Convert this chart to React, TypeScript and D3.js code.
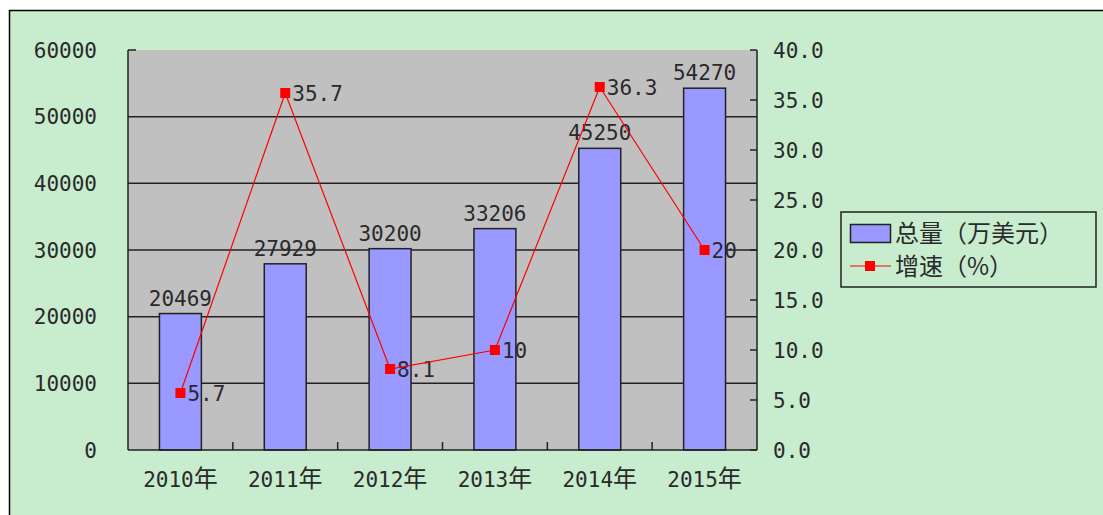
import { useEffect, useRef } from 'react';
import * as d3 from 'd3';

const years = ['2010年', '2011年', '2012年', '2013年', '2014年', '2015年'];
const totals = [20469, 27929, 30200, 33206, 45250, 54270];
const growth = [5.7, 35.7, 8.1, 10, 36.3, 20];
const growthLabels = ['5.7', '35.7', '8.1', '10', '36.3', '20'];
const leftTicks = [0, 10000, 20000, 30000, 40000, 50000, 60000];
const rightTicks = [0, 5, 10, 15, 20, 25, 30, 35, 40];
const legendNames = ['总量（万美元）', '增速（%）'];

const FONT = '"DejaVu Sans Mono", "Noto Sans CJK SC", monospace';
const CJK = '"Noto Sans CJK SC", sans-serif';

const App = () => {
  const svgRef = useRef<SVGSVGElement>(null);

  useEffect(() => {
    const svg = d3.select(svgRef.current);
    svg.selectAll('*').remove();

    const width = 1103;
    const height = 515;
    const marginLeft = 128;
    const marginRight = 346;
    const marginTop = 50;
    const marginBottom = 65;

    // background frame
    svg.append('rect')
      .attr('x', 9.5).attr('y', 10.5)
      .attr('width', 1110).attr('height', 520)
      .attr('fill', '#c8ecce')
      .attr('stroke', '#000').attr('stroke-width', 1.5);

    const x = d3.scaleBand()
      .domain(years)
      .range([marginLeft, width - marginRight]);

    const y = d3.scaleLinear().domain([0, 60000]).range([height - marginBottom, marginTop]);
    const y2 = d3.scaleLinear().domain([0, 40]).range([height - marginBottom, marginTop]);

    const x0 = marginLeft, x1 = width - marginRight;
    const yb = height - marginBottom;

    // plot area
    svg.append('rect')
      .attr('x', x0).attr('y', marginTop)
      .attr('width', x1 - x0).attr('height', yb - marginTop)
      .attr('fill', '#c0c0c0');

    // gridlines
    svg.append('g')
      .selectAll('line')
      .data(leftTicks.slice(1, -1))
      .join('line')
      .attr('x1', x0).attr('x2', x1)
      .attr('y1', d => y(d)).attr('y2', d => y(d))
      .attr('stroke', '#222').attr('stroke-width', 1.5);

    // bars
    const bw = x.bandwidth() * 0.4;
    svg.append('g')
      .selectAll('rect')
      .data(totals)
      .join('rect')
      .attr('x', (d, i) => x(years[i])! + (x.bandwidth() - bw) / 2)
      .attr('y', d => y(d))
      .attr('width', bw)
      .attr('height', d => yb - y(d))
      .attr('fill', '#9999ff')
      .attr('stroke', '#222').attr('stroke-width', 1.5);

    // axes lines
    const axes = svg.append('g').attr('stroke', '#222').attr('stroke-width', 1.5);
    axes.append('line').attr('x1', x0).attr('x2', x0).attr('y1', marginTop).attr('y2', yb);
    axes.append('line').attr('x1', x1).attr('x2', x1).attr('y1', marginTop).attr('y2', yb);
    axes.append('line').attr('x1', x0).attr('x2', x1).attr('y1', yb).attr('y2', yb);
    axes.append('line').attr('x1', x0).attr('x2', x0 + 8).attr('y1', marginTop).attr('y2', marginTop);
    axes.selectAll('line.rt')
      .data(rightTicks)
      .join('line')
      .attr('class', 'rt')
      .attr('x1', x1 - 7).attr('x2', x1)
      .attr('y1', d => y2(d)).attr('y2', d => y2(d));
    axes.selectAll('line.xt')
      .data(years.slice(1))
      .join('line')
      .attr('class', 'xt')
      .attr('x1', d => x(d)!).attr('x2', d => x(d)!)
      .attr('y1', yb).attr('y2', yb - 8);

    const text = svg.append('g')
      .attr('font-family', FONT)
      .attr('font-size', 21)
      .attr('fill', '#2a2a2a');

    // left tick labels
    text.append('g')
      .selectAll('text')
      .data(leftTicks)
      .join('text')
      .attr('x', 97).attr('y', d => y(d))
      .attr('dy', '0.36em')
      .attr('text-anchor', 'end')
      .text(d => String(d));

    // right tick labels
    text.append('g')
      .selectAll('text')
      .data(rightTicks)
      .join('text')
      .attr('x', 773).attr('y', d => y2(d))
      .attr('dy', '0.36em')
      .text(d => d.toFixed(1));

    // category labels, the 年 glyph a bit larger
    const cat = text.append('g')
      .selectAll('text')
      .data(years)
      .join('text')
      .attr('x', d => x(d)! + x.bandwidth() / 2)
      .attr('y', 479)
      .attr('dy', '0.36em')
      .attr('text-anchor', 'middle');
    cat.append('tspan').text(d => d.slice(0, -1));
    cat.append('tspan')
      .attr('font-family', CJK)
      .attr('font-size', 24)
      .text(d => d.slice(-1));

    // bar value labels
    text.append('g')
      .selectAll('text')
      .data(totals)
      .join('text')
      .attr('x', (d, i) => x(years[i])! + x.bandwidth() / 2)
      .attr('y', d => y(d) - 8)
      .attr('text-anchor', 'middle')
      .text(d => String(d));

    // growth line
    const line = d3.line<number>()
      .x((d, i) => x(years[i])! + x.bandwidth() / 2)
      .y(d => y2(d));
    svg.append('path')
      .datum(growth)
      .attr('d', line)
      .attr('fill', 'none')
      .attr('stroke', '#ff0000')
      .attr('stroke-width', 1.2);

    svg.append('g')
      .selectAll('rect')
      .data(growth)
      .join('rect')
      .attr('x', (d, i) => x(years[i])! + x.bandwidth() / 2 - 5)
      .attr('y', d => y2(d) - 5)
      .attr('width', 10).attr('height', 10)
      .attr('fill', '#ff0000');

    text.append('g')
      .selectAll('text')
      .data(growth)
      .join('text')
      .attr('x', (d, i) => x(years[i])! + x.bandwidth() / 2 + 7)
      .attr('y', d => y2(d))
      .attr('dy', '0.36em')
      .text((d, i) => growthLabels[i]);

    // legend
    const lg = svg.append('g');
    lg.append('rect')
      .attr('x', 841).attr('y', 212).attr('width', 255).attr('height', 75)
      .attr('fill', 'none').attr('stroke', '#222').attr('stroke-width', 1.5);
    lg.append('rect')
      .attr('x', 850.5).attr('y', 224.5).attr('width', 40).attr('height', 18)
      .attr('fill', '#9999ff').attr('stroke', '#222').attr('stroke-width', 1.5);
    lg.append('line')
      .attr('x1', 850).attr('x2', 891).attr('y1', 266).attr('y2', 266)
      .attr('stroke', '#ff0000').attr('stroke-width', 1.2);
    lg.append('rect')
      .attr('x', 865).attr('y', 261).attr('width', 10).attr('height', 10)
      .attr('fill', '#ff0000');
    lg.selectAll('text')
      .data(legendNames)
      .join('text')
      .attr('x', 895)
      .attr('y', (d, i) => 233 + i * 33)
      .attr('dy', '0.36em')
      .attr('font-family', CJK)
      .attr('font-size', 24)
      .attr('fill', '#2a2a2a')
      .text(d => d);
  }, []);

  return (
    <svg
      ref={svgRef}
      width={1103}
      height={515}
      style={{ position: 'absolute', left: 0, top: 0, display: 'block', background: '#fff' }}
    />
  );
};

export default App;
